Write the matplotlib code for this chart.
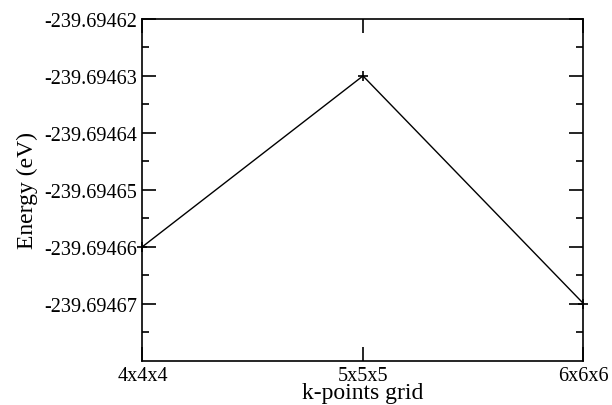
import matplotlib
matplotlib.use("Agg")
import matplotlib.pyplot as plt
from matplotlib.ticker import MultipleLocator, FormatStrFormatter

categories = ["4x4x4", "5x5x5", "6x6x6"]
energies = [-239.69466, -239.69463, -239.69467]
y_limits = (-239.69468, -239.69462)

plt.rcParams['font.family'] = ['Liberation Serif', 'DejaVu Serif']

fig = plt.figure(figsize=(6.12, 4.06), dpi=100)
ax = fig.add_axes([0.2328, 0.1096, 0.9534 - 0.2328, 0.9507 - 0.1096])

x = list(range(len(categories)))
ax.plot(x, energies, color='black', linewidth=1.0, marker='+',
        markersize=7.5, markeredgewidth=1.2, clip_on=False, zorder=3)

ax.set_xlim(0, len(categories) - 1)
ax.set_ylim(*y_limits)
ax.set_xticks(x)
ax.set_xticklabels(categories)

ax.yaxis.set_major_locator(MultipleLocator(0.00001))
ax.yaxis.set_minor_locator(MultipleLocator(0.000005))
ax.yaxis.set_major_formatter(FormatStrFormatter('%.5f'))

ax.tick_params(axis='both', which='major', direction='in', length=10, width=1.2,
               labelsize=14.6, pad=4, top=True, right=True, color='black')
ax.tick_params(axis='y', which='minor', direction='in', length=5, width=1.2,
               right=True, left=True)
ax.tick_params(axis='x', which='minor', bottom=False, top=False)

for s in ax.spines.values():
    s.set_linewidth(1.2)
    s.set_color('black')

ax.set_xlabel("k-points grid", fontsize=17, labelpad=-2.5)
ax.set_ylabel("Energy (eV)", fontsize=17, labelpad=4)

fig.savefig("out.png", dpi=100)
